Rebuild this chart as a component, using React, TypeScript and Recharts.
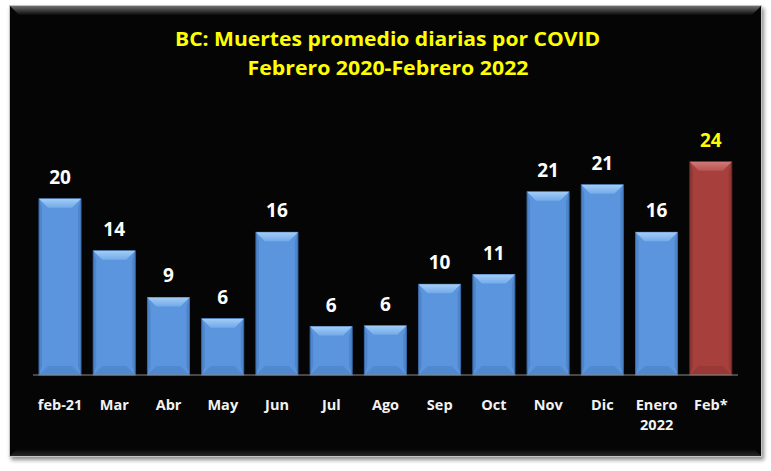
import React from 'react';
import { BarChart, Bar, XAxis, YAxis, LabelList } from 'recharts';

// BC daily COVID deaths, monthly averages
const months = ['feb-21', 'Mar', 'Abr', 'May', 'Jun', 'Jul', 'Ago', 'Sep', 'Oct', 'Nov', 'Dic', 'Enero 2022', 'Feb*'];
const deaths = [20.0, 14.1, 8.8, 6.4, 16.2, 5.5, 5.6, 10.3, 11.4, 20.8, 21.6, 16.2, 24.2];
const shownLabels = ['20', '14', '9', '6', '16', '6', '6', '10', '11', '21', '21', '16', '24'];

const titleLines = ['BC: Muertes promedio diarias por COVID', 'Febrero 2020-Febrero 2022'];

const data = months.map((m, i) => ({ month: m, value: deaths[i], label: shownLabels[i] }));

const FONT = '"Open Sans", "Noto Sans", sans-serif';
const lastIndex = months.length - 1;

const blue = { main: '#5b95de', top: '#a3cdf6', topEnd: '#72aaea', bottom: '#4d85cc', edge: '#3a6aa8' };
const red = { main: '#a7403c', top: '#d27a76', topEnd: '#b65350', bottom: '#933632', edge: '#6e2725' };

const BevelBar = (props: any) => {
    const { x, y, width, height, index } = props;
    if (height <= 0) return null;
    const c = index === lastIndex ? red : blue;
    const b = Math.min(9, height / 2);
    const gid = `topgrad-${index}`;
    return (
        <g>
            <defs>
                <linearGradient id={gid} x1="0" y1="0" x2="0" y2="1">
                    <stop offset="0%" stopColor={c.top} />
                    <stop offset="100%" stopColor={c.topEnd} />
                </linearGradient>
            </defs>
            <rect x={x} y={y} width={width} height={height} fill={c.main} stroke={c.edge} strokeWidth={1} />
            <polygon
                points={`${x},${y + height} ${x + width},${y + height} ${x + width - b},${y + height - b} ${x + b},${y + height - b}`}
                fill={c.bottom}
                opacity={0.7}
            />
            <polygon
                points={`${x},${y} ${x + 3},${y + b} ${x + 3},${y + height - b} ${x},${y + height}`}
                fill={c.edge}
                opacity={0.35}
            />
            <polygon
                points={`${x + width},${y} ${x + width - 3},${y + b} ${x + width - 3},${y + height - b} ${x + width},${y + height}`}
                fill={c.edge}
                opacity={0.35}
            />
            <polygon
                points={`${x},${y} ${x + width},${y} ${x + width - b},${y + b} ${x + b},${y + b}`}
                fill={`url(#${gid})`}
            />
        </g>
    );
};

const ValueLabel = (props: any) => {
    const { x, y, width, value, index } = props;
    return (
        <text
            x={x + width / 2}
            y={y - 15}
            textAnchor="middle"
            fill={index === lastIndex ? '#ffff00' : '#ffffff'}
            fontFamily={FONT}
            fontWeight={700}
            fontSize={19}
        >
            {value}
        </text>
    );
};

const MonthTick = (props: any) => {
    const { x, y, payload } = props;
    const parts = String(payload.value).split(' ');
    return (
        <g>
            {parts.map((p, i) => (
                <text
                    key={i}
                    x={x}
                    y={y + 35 + i * 20}
                    textAnchor="middle"
                    fill="#f2f2f2"
                    fontFamily={FONT}
                    fontWeight={700}
                    fontSize={14.5}
                >
                    {p}
                </text>
            ))}
        </g>
    );
};

export default function App() {
    return (
        <div style={{ position: 'absolute', left: 0, top: 0, width: 771, height: 471, background: '#ffffff' }}>
            {/* black panel with bevelled top edge */}
            <div
                style={{
                    position: 'absolute',
                    left: 9,
                    top: 5,
                    width: 751,
                    height: 450,
                    background: '#050505',
                    border: '1px solid #c4c4c4',
                    boxShadow: '2px 3px 4px rgba(0,0,0,0.45)',
                    overflow: 'hidden',
                }}
            >
                <div
                    style={{
                        position: 'absolute',
                        left: 0,
                        top: 0,
                        width: '100%',
                        height: 9,
                        background: 'linear-gradient(#6e6e6e, #0a0a0a)',
                        clipPath: 'polygon(0 0, 100% 0, calc(100% - 9px) 100%, 9px 100%)',
                    }}
                />
                <div
                    style={{
                        position: 'absolute',
                        left: 0,
                        bottom: 0,
                        width: '100%',
                        height: 7,
                        background: 'linear-gradient(#050505, #262626)',
                        clipPath: 'polygon(7px 0, calc(100% - 7px) 0, 100% 100%, 0 100%)',
                    }}
                />
            </div>
            <svg width={771} height={471} style={{ position: 'absolute', left: 0, top: 0 }}>
                <text x={387.5} y={46} textAnchor="middle" fill="#ffff00" fontFamily={FONT} fontWeight={700} fontSize={20} textLength={425} lengthAdjust="spacingAndGlyphs">
                    {titleLines[0]}
                </text>
                <text x={388} y={75} textAnchor="middle" fill="#ffff00" fontFamily={FONT} fontWeight={700} fontSize={20} textLength={281} lengthAdjust="spacingAndGlyphs">
                    {titleLines[1]}
                </text>
            </svg>
            <div style={{ position: 'absolute', left: 0, top: 0 }}>
                <BarChart
                    width={771}
                    height={471}
                    data={data}
                    margin={{ top: 146, right: 33, bottom: 36, left: 33 }}
                    barSize={42}
                >
                    <XAxis
                        dataKey="month"
                        height={60}
                        axisLine={{ stroke: '#8c8c8c', strokeWidth: 1 }}
                        tickLine={false}
                        tickSize={0}
                        tickMargin={0}
                        interval={0}
                        tick={<MonthTick />}
                    />
                    <YAxis hide domain={[0, 26]} />
                    <Bar dataKey="value" shape={<BevelBar />} isAnimationActive={false}>
                        <LabelList dataKey="label" content={<ValueLabel />} />
                    </Bar>
                </BarChart>
            </div>
        </div>
    );
}
